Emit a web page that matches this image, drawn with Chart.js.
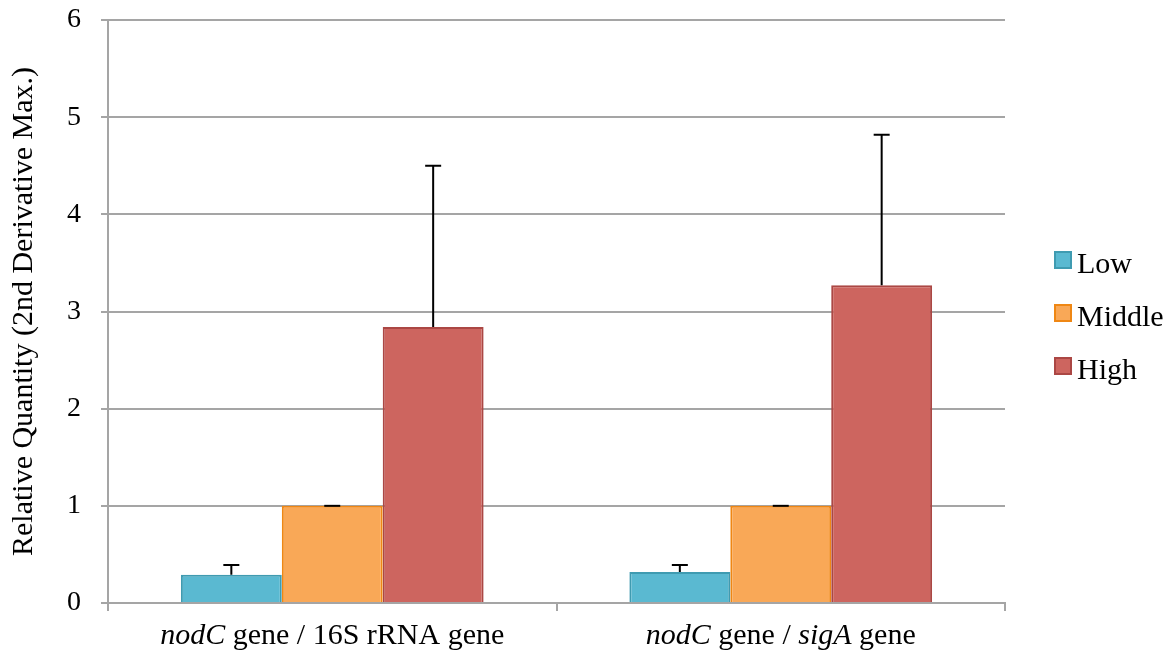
<!DOCTYPE html>
<html>
<head>
<meta charset="utf-8">
<script src="https://cdn.jsdelivr.net/npm/chart.js@4.4.1/dist/chart.umd.min.js"></script>
<style>
  html, body { margin: 0; padding: 0; background: #fff; }
  #wrap { width: 1174px; height: 659px; }
</style>
</head>
<body>
<div id="wrap"><canvas id="qpcr" width="1174" height="659"></canvas></div>
<script>
// relative quantity per group, with upper error amounts
const categories = ['nodC gene / 16S rRNA gene', 'nodC gene / sigA gene'];
const lowValues = [0.29, 0.32];
const middleValues = [1.0, 1.0];
const highValues = [2.84, 3.27];
const lowErr = [0.10, 0.07];
const middleErr = [0, 0];
const highErr = [1.66, 1.55];
const yTicks = [0, 1, 2, 3, 4, 5, 6];

// category labels split into [text, italic] runs
const labelRuns = [
    [['nodC', true], [' gene / 16S rRNA gene', false]],
    [['nodC', true], [' gene / ', false], ['sigA', true], [' gene', false]]
];

const serif = "'Liberation Serif', 'Times New Roman', serif";
const gridGray = '#a5a5a5';
const labelSize = 30;

const errorBars = {
    id: 'errorBars',
    afterDatasetsDraw(chart) {
        const ctx = chart.ctx;
        const y = chart.scales.y;
        ctx.save();
        ctx.strokeStyle = '#000';
        ctx.lineWidth = 2;
        chart.data.datasets.forEach((ds, di) => {
            const meta = chart.getDatasetMeta(di);
            meta.data.forEach((bar, i) => {
                const top = y.getPixelForValue(ds.data[i] + ds.errors[i]);
                ctx.beginPath();
                ctx.moveTo(bar.x, bar.y);
                ctx.lineTo(bar.x, top);
                ctx.moveTo(bar.x - 8, top);
                ctx.lineTo(bar.x + 8, top);
                ctx.stroke();
            });
        });
        ctx.restore();
    }
};

const categoryLabels = {
    id: 'categoryLabels',
    afterDraw(chart) {
        const ctx = chart.ctx;
        const x = chart.scales.x;
        ctx.save();
        ctx.fillStyle = '#000';
        ctx.textBaseline = 'middle';
        ctx.textAlign = 'left';
        labelRuns.forEach((runs, i) => {
            let total = 0;
            runs.forEach(r => {
                ctx.font = (r[1] ? 'italic ' : '') + labelSize + 'px ' + serif;
                total += ctx.measureText(r[0]).width;
            });
            let cx = x.getPixelForValue(i) - total / 2;
            runs.forEach(r => {
                ctx.font = (r[1] ? 'italic ' : '') + labelSize + 'px ' + serif;
                ctx.fillText(r[0], cx, 636);
                cx += ctx.measureText(r[0]).width;
            });
        });
        ctx.restore();
    }
};

// legend to the right of the plot: square swatch + series name
const sideLegend = {
    id: 'sideLegend',
    afterDraw(chart) {
        const ctx = chart.ctx;
        const left = chart.chartArea.right + 50;
        ctx.save();
        ctx.font = labelSize + 'px ' + serif;
        ctx.textBaseline = 'alphabetic';
        ctx.textAlign = 'left';
        chart.data.datasets.forEach((ds, i) => {
            const top = 252 + i * 53;
            ctx.fillStyle = ds.backgroundColor;
            ctx.strokeStyle = ds.borderColor;
            ctx.lineWidth = 2;
            ctx.fillRect(left, top, 16, 16);
            ctx.strokeRect(left, top, 16, 16);
            ctx.fillStyle = '#000';
            ctx.fillText(ds.label, left + 22, top + 21);
        });
        ctx.restore();
    }
};

function series(label, data, errors, fill, border) {
    return {
        label, data, errors,
        backgroundColor: fill,
        borderColor: border,
        borderWidth: 2,
        borderSkipped: 'bottom',
        categoryPercentage: 0.675,
        barPercentage: 1.0
    };
}

new Chart(document.getElementById('qpcr'), {
    type: 'bar',
    data: {
        labels: categories,
        datasets: [
            series('Low', lowValues, lowErr, '#5ab9d1', '#3f9bb1'),
            series('Middle', middleValues, middleErr, '#f9a857', '#ef8714'),
            series('High', highValues, highErr, '#cd655f', '#ab4744')
        ]
    },
    options: {
        responsive: false,
        animation: false,
        layout: { padding: { top: 20, left: 0, right: 169, bottom: 0 } },
        plugins: {
            tooltip: { enabled: false },
            legend: { display: false }
        },
        scales: {
            x: {
                offset: true,
                afterFit: axis => {
                    axis.height = 56;
                    axis.paddingLeft = 0;
                    axis.paddingRight = 0;
                },
                grid: {
                    offset: true,
                    drawOnChartArea: false,
                    color: gridGray,
                    lineWidth: 2,
                    tickLength: 8
                },
                border: { color: gridGray, width: 2 },
                ticks: { callback: () => '' }
            },
            y: {
                min: 0,
                max: 6,
                afterFit: axis => {
                    axis.width = 108;
                    axis.paddingTop = 0;
                    axis.paddingBottom = 0;
                },
                afterBuildTicks: axis => { axis.ticks = yTicks.map(v => ({ value: v })); },
                grid: { color: gridGray, lineWidth: 2, tickLength: 7 },
                border: { color: gridGray, width: 2 },
                ticks: {
                    color: '#000',
                    font: { family: serif, size: 28 },
                    padding: 20
                },
                title: {
                    display: true,
                    text: 'Relative Quantity (2nd Derivative Max.)',
                    color: '#000',
                    font: { family: serif, size: labelSize },
                    padding: { top: 6, bottom: 0 }
                }
            }
        }
    },
    plugins: [errorBars, categoryLabels, sideLegend]
});
</script>
</body>
</html>
